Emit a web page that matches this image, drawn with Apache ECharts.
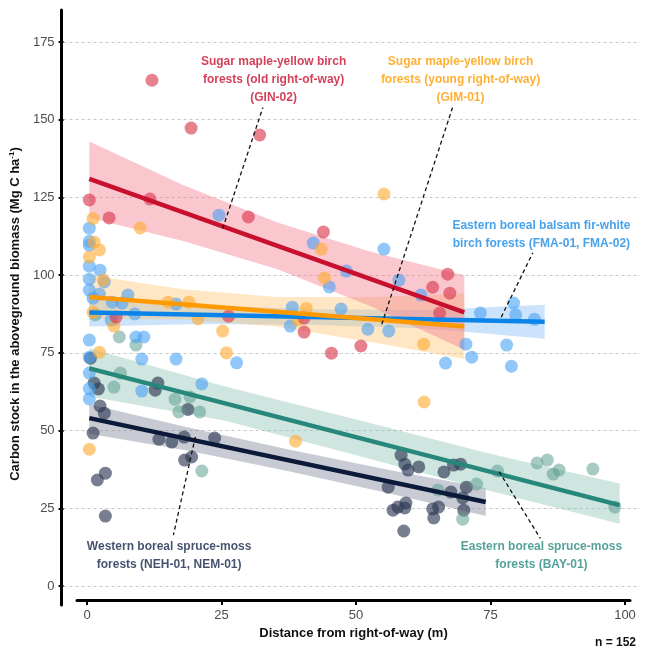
<!DOCTYPE html>
<html lang="en">
<head>
<meta charset="UTF-8">
<title>Carbon stock vs distance from right-of-way</title>
<script src="https://cdn.jsdelivr.net/npm/echarts@6.0.0/dist/echarts.min.js"></script>
<style>
  html, body { margin: 0; padding: 0; background: #fff; }
  #chart { width: 648px; height: 652px; }
</style>
</head>
<body>
<div id="chart"></div>
<script>
// points: [distance (m), carbon stock (Mg C/ha)]
const ginPoints = [[11.7,162.7],[19.0,147.3],[31.8,145.1],[0,124.2],[11.3,124.5],[3.7,118.4],[29.7,118.7],[43.7,113.9],
  [5.0,86.5],[26.0,86.8],[40.1,86.2],[40.1,81.7],[45.2,74.9],[50.7,77.2],[64.1,96.1],[66.9,100.3],[67.3,94.2],[65.4,87.8]]
const gimPoints = [[0.7,118.2],[9.5,115.2],[0.9,110.6],[1.9,108.1],[0,105.8],[2.6,98.4],[43.3,108.4],[43.9,99.1],
  [14.7,91.3],[18.6,91.3],[0.7,88.1],[20.3,85.9],[4.6,83.6],[24.9,82.0],[40.5,89.3],[1.9,75.2],[25.6,75.0],
  [55.0,126.1],[62.4,77.8],[62.5,59.2],[0,44.0],[38.5,46.6],[38.9,85.6]]
const fmaPoints = [[0,115.1],[0,110.9],[0,109.6],[0,102.9],[2.0,101.6],[0,98.7],[2.8,97.8],[0,95.2],[1.9,93.9],
  [0.7,92.6],[4.3,91.3],[6.1,91.0],[7.2,93.6],[8.5,87.5],[4.1,85.5],[16.2,90.7],[24.2,119.3],[37.9,89.7],
  [37.5,83.6],[41.8,110.3],[44.8,96.2],[48.0,101.3],[47.0,89.1],[0,79.1],[8.7,80.1],[10.2,80.1],[0,73.6],
  [9.8,73.0],[16.2,73.0],[27.5,71.8],[0,68.5],[0,63.5],[0,60.2],[9.8,62.7],[21.0,65.0],[55.0,108.4],
  [57.8,98.4],[61.9,93.6],[73.0,87.8],[79.2,91.0],[79.6,87.2],[83.1,85.8],[52.0,82.6],[55.9,82.0],
  [70.3,77.8],[77.9,77.5],[71.4,73.6],[66.5,71.7],[78.8,70.7]]
const bayPoints = [[5.6,80.1],[8.7,77.5],[5.8,68.5],[4.6,64.0],[16.0,60.1],[18.8,60.8],[16.7,56.0],[20.6,56.0],
  [21.0,37.0],[65.1,30.9],[72.3,32.8],[69.7,21.5],[76.2,37.0],[83.6,39.6],[85.5,40.5],[86.6,36.0],[87.7,37.3],
  [94.0,37.6],[98.1,25.4],[1.1,87.2]]
const nehPoints = [[0.2,73.3],[0.9,65.3],[1.7,63.4],[2.0,57.9],[2.8,55.6],[0.7,49.2],[3.0,36.3],[1.5,34.1],
  [3.0,22.5],[12.8,65.3],[12.3,63.0],[18.4,56.8],[13.0,47.2],[15.4,46.3],[17.7,47.9],[23.4,47.6],[17.8,40.5],
  [19.1,41.5],[58.2,42.1],[58.9,39.2],[59.5,37.3],[61.5,38.3],[66.2,36.7],[68.0,38.9],[69.3,39.2],[70.4,31.8],
  [67.5,30.2],[55.8,31.8],[56.7,24.4],[57.6,25.4],[59.1,26.7],[58.9,25.1],[64.1,24.8],[65.2,25.4],[64.3,21.9],
  [69.7,28.3],[69.9,24.4],[58.7,17.7]]

// fitted lines (ends) and confidence bands [x, lower, upper]
const ginFit = [[0,131],[70,88]]
const gimFit = [[0,93],[70,83.5]]
const fmaFit = [[0,88],[85,85]]
const bayFit = [[0,70],[99,26]]
const nehFit = [[0,54],[74,27]]

const ginBand = [[0,118.5,143],[17.5,111,129],[35,102,117],[52.5,90,107.5],[70,76,100]]
const gimBand = [[0,86,100],[17.5,85.7,95.5],[35,83.5,93],[52.5,78.5,93],[70,73,94]]
const fmaBand = [[0,83.5,92.5],[21,84.3,90.3],[42,84,89],[63,82.8,88.8],[85,79.5,90.5]]
const bayBand = [[0,61,76.5],[25,53.3,64.3],[50,42,53.5],[75,30.5,42.5],[99,20,33]]
const nehBand = [[0,49,58.5],[18.5,43.5,51],[37,37,44],[55.5,30,37.5],[74,22.5,31.5]]

// annotation texts, where they sit and the dashed pointers
const ginText = 'Sugar maple-yellow birch\nforests (old right-of-way)\n(GIN-02)'
const gimText = 'Sugar maple-yellow birch\nforests (young right-of-way)\n(GIM-01)'
const fmaText = 'Eastern boreal balsam fir-white\nbirch forests (FMA-01, FMA-02)'
const nehText = 'Western boreal spruce-moss\nforests (NEH-01, NEM-01)'
const bayText = 'Eastern boreal spruce-moss\nforests (BAY-01)'
const ginTextAt = [34.4, 162.8]
const gimTextAt = [69.3, 162.8]
const fmaTextAt = [84.4, 112.9]
const nehTextAt = [14.9, 9.8]
const bayTextAt = [84.4, 9.8]
const ginLeader = [[24.9,115.0],[32.4,153.9]]
const gimLeader = [[54.6,84.2],[67.8,153.9]]
const fmaLeader = [[76.9,86.5],[82.8,107.2]]
const nehLeader = [[19.8,48.0],[15.7,16.4]]
const bayLeader = [[76.5,36.8],[84.2,15.3]]

const xTicks = [0, 25, 50, 75, 100]
const FONT = 'Liberation Sans'

function band(data, color, opacity) {
  return {
    type: 'custom', data: data, z: 1, silent: true,
    encode: { x: 0, y: [1, 2] },
    renderItem: function (params, api) {
      if (params.dataIndex !== 0) return null
      const top = data.map(d => api.coord([d[0], d[2]]))
      const bottom = data.map(d => api.coord([d[0], d[1]])).reverse()
      return { type: 'polygon', shape: { points: top.concat(bottom) }, style: { fill: color, opacity: opacity } }
    }
  }
}
function dots(data, color, opacity) {
  return { type: 'scatter', data: data, symbolSize: 13, z: 2, silent: true, itemStyle: { color: color, opacity: opacity } }
}
function fit(data, color) {
  return { type: 'line', data: data, symbol: 'none', z: 3, silent: true, lineStyle: { color: color, width: 4.5 } }
}
function leader(data) {
  return { type: 'line', data: data, symbol: 'none', z: 4, silent: true, lineStyle: { color: '#111', width: 1.3, type: [4, 3] } }
}
function note(at, text, color) {
  return {
    type: 'scatter', data: [[at[0], at[1], text]], symbolSize: 1, z: 5, silent: true,
    itemStyle: { color: 'transparent' },
    label: {
      show: true, position: 'inside', formatter: p => p.data[2],
      color: color, fontSize: 12, fontWeight: 'bold', fontFamily: FONT, lineHeight: 18,
      align: 'center', verticalAlign: 'middle'
    }
  }
}

const chart = echarts.init(document.getElementById('chart'))
const option = {
  animation: false,
  textStyle: { fontFamily: FONT },
  title: { text: 'n = 152', right: 12, bottom: 3, padding: 0, textStyle: { fontSize: 12, fontWeight: 'bold', color: '#111', fontFamily: FONT } },
  grid: [
    { left: 61, right: 8, top: 42, bottom: 66 },   // plotting area
    { left: 61, right: 8, top: 10, bottom: 47 },   // long y axis line
    { left: 77, right: 18, top: 10, bottom: 52 }   // detached x axis
  ],
  xAxis: [
    { gridIndex: 0, type: 'value', min: -4.8, max: 102.8, show: false },
    { gridIndex: 1, type: 'value', min: 0, max: 1, show: false },
    {
      gridIndex: 2, type: 'value', min: -1.86, max: 100.93,
      axisLine: { show: true, onZero: false, lineStyle: { color: '#000', width: 3 } },
      axisTick: { show: true, customValues: xTicks, length: 5, lineStyle: { color: '#000', width: 2 } },
      axisLabel: { customValues: xTicks, margin: 9, fontSize: 13, color: '#4d4d4d', fontFamily: FONT },
      splitLine: { show: false },
      name: 'Distance from right-of-way (m)', nameLocation: 'middle', nameGap: 25,
      nameTextStyle: { fontSize: 13, fontWeight: 'bold', color: '#111', fontFamily: FONT }
    }
  ],
  yAxis: [
    {
      gridIndex: 0, type: 'value', min: 0, max: 175, interval: 25,
      axisLine: { show: false, onZero: false },
      axisTick: { show: true, length: 5, lineStyle: { color: '#000', width: 2 } },
      axisLabel: { margin: 9, fontSize: 13, color: '#4d4d4d', fontFamily: FONT },
      splitLine: { show: true, lineStyle: { color: '#c8c8c8', width: 1, type: [3, 3] } },
      name: 'Carbon stock in the aboveground biomass (Mg C ha{sup|-1})',
      nameLocation: 'middle', nameGap: 34,
      nameTextStyle: {
        fontSize: 13, fontWeight: 'bold', color: '#111', fontFamily: FONT,
        rich: { sup: { fontSize: 8, fontWeight: 'bold', color: '#111', fontFamily: FONT, verticalAlign: 'top', padding: [0, 0, 7, 0] } }
      }
    },
    {
      gridIndex: 1, type: 'value', min: 0, max: 1,
      axisLine: { show: true, onZero: false, lineStyle: { color: '#000', width: 3 } },
      axisTick: { show: false }, axisLabel: { show: false }, splitLine: { show: false }
    },
    { gridIndex: 2, type: 'value', min: 0, max: 1, show: false }
  ],
  series: [
    band(nehBand, '#7d8497', 0.42),
    band(bayBand, '#8cc0b6', 0.42),
    band(fmaBand, '#8cc2f7', 0.45),
    band(gimBand, '#ffc066', 0.38),
    band(ginBand, '#f47a8c', 0.42),
    dots(nehPoints, '#2e3a55', 0.65),
    dots(bayPoints, '#5e9e92', 0.55),
    dots(fmaPoints, '#4aa2f5', 0.6),
    dots(gimPoints, '#ffab33', 0.62),
    dots(ginPoints, '#dc3e52', 0.65),
    fit(nehFit, '#0b1a38'),
    fit(bayFit, '#26877a'),
    fit(fmaFit, '#0a84e8'),
    fit(gimFit, '#ff9900'),
    fit(ginFit, '#c8102e'),
    leader(ginLeader), leader(gimLeader), leader(fmaLeader), leader(nehLeader), leader(bayLeader),
    note(ginTextAt, ginText, '#c8102e'),
    note(gimTextAt, gimText, '#ff9c00'),
    note(fmaTextAt, fmaText, '#1a8be6'),
    note(nehTextAt, nehText, '#14254a'),
    note(bayTextAt, bayText, '#2a8a7f')
  ]
}
chart.setOption(option)
</script>
</body>
</html>
